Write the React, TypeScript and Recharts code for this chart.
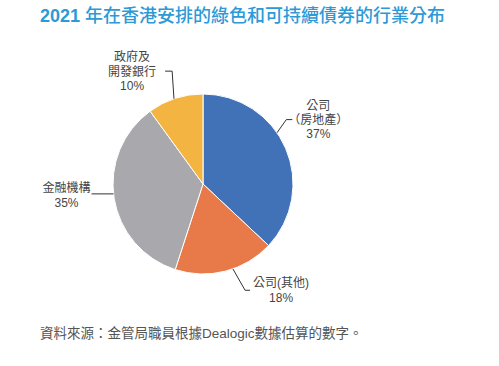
import { PieChart, Pie, Cell } from 'recharts';

const categories = ['公司（房地產）', '公司(其他)', '金融機構', '政府及開發銀行'];
const labelLines = [['公司', '（房地產）'], ['公司(其他)'], ['金融機構'], ['政府及', '開發銀行']];
const shares = [37, 18, 35, 10];
const colors = ['#4171B7', '#E77A48', '#A8A8AD', '#F4B441'];

const data = categories.map((name, i) => ({ name, value: shares[i] }));

// leader line + text placement per slice (angles in degrees relative to slice mid)
const layout = [
  { edgeOff: 11.3, elbowOff: 14.3, elbowK: 1.17, dx: 6, tx: 26, ty: [-14, 0, 14] },
  { edgeOff: 5, elbowOff: 7.2, elbowK: 1.27, dx: 5, tx: 31, ty: [-7, 8] },
  { edgeOff: -2.7, elbowOff: -2.7, elbowK: 1, dx: -22, tx: -25, ty: [-6, 9] },
  { edgeOff: 0.8, elbowOff: -2.7, elbowK: 1.3, dx: -7, tx: -33, ty: [-14, 1, 15] },
];

const RAD = Math.PI / 180;
const font = '"Liberation Sans", "Noto Sans CJK TC", sans-serif';

const renderLabel = (props: any) => {
  const { cx, cy, midAngle, outerRadius, index } = props;
  const l = layout[index];
  const pt = (r: number, a: number) => [cx + r * Math.cos(-a * RAD), cy + r * Math.sin(-a * RAD)];
  const [ex, ey] = pt(outerRadius, midAngle + l.edgeOff);
  const [bx, by] = pt(outerRadius * l.elbowK, midAngle + l.elbowOff);
  const endX = bx + l.dx;
  const lines = [...labelLines[index], `${shares[index]}%`];
  return (
    <g key={`lbl-${index}`}>
      <polyline points={`${ex},${ey} ${bx},${by} ${endX},${by}`} fill="none" stroke="#333" strokeWidth={1} />
      {lines.map((t, j) => (
        <text key={j} x={endX + l.tx} y={by + l.ty[j]} textAnchor="middle" dominantBaseline="central"
          fill="#444" fontSize={12} fontFamily={font}>{t}</text>
      ))}
    </g>
  );
};

export default function App() {
  return (
    <div style={{ position: 'absolute', left: 0, top: 0, width: 499, height: 366, background: '#fff', fontFamily: font }}>
      <div style={{ position: 'absolute', left: 40, top: 5, lineHeight: '22px', fontSize: 18, color: '#2D9AD6', whiteSpace: 'nowrap' }}>
        <span style={{ fontWeight: 700 }}>2021</span>
        <span style={{ fontWeight: 500 }}> 年在香港安排的綠色和可持續債券的行業分布</span>
      </div>
      <PieChart width={499} height={366} margin={{ top: 0, right: 0, bottom: 0, left: 0 }}
        style={{ position: 'absolute', left: 0, top: 0 }}>
        <Pie data={data} dataKey="value" nameKey="name" cx={203} cy={184} outerRadius={90}
          startAngle={90} endAngle={-270} stroke="#fff" strokeWidth={1}
          label={renderLabel} labelLine={false} isAnimationActive={false}>
          {data.map((d, i) => <Cell key={d.name} fill={colors[i]} />)}
        </Pie>
      </PieChart>
      <div style={{ position: 'absolute', left: 40, top: 325, lineHeight: '18px', fontSize: 13.5, color: '#555', whiteSpace: 'nowrap' }}>
        資料來源：金管局職員根據Dealogic數據估算的數字。
      </div>
    </div>
  );
}
